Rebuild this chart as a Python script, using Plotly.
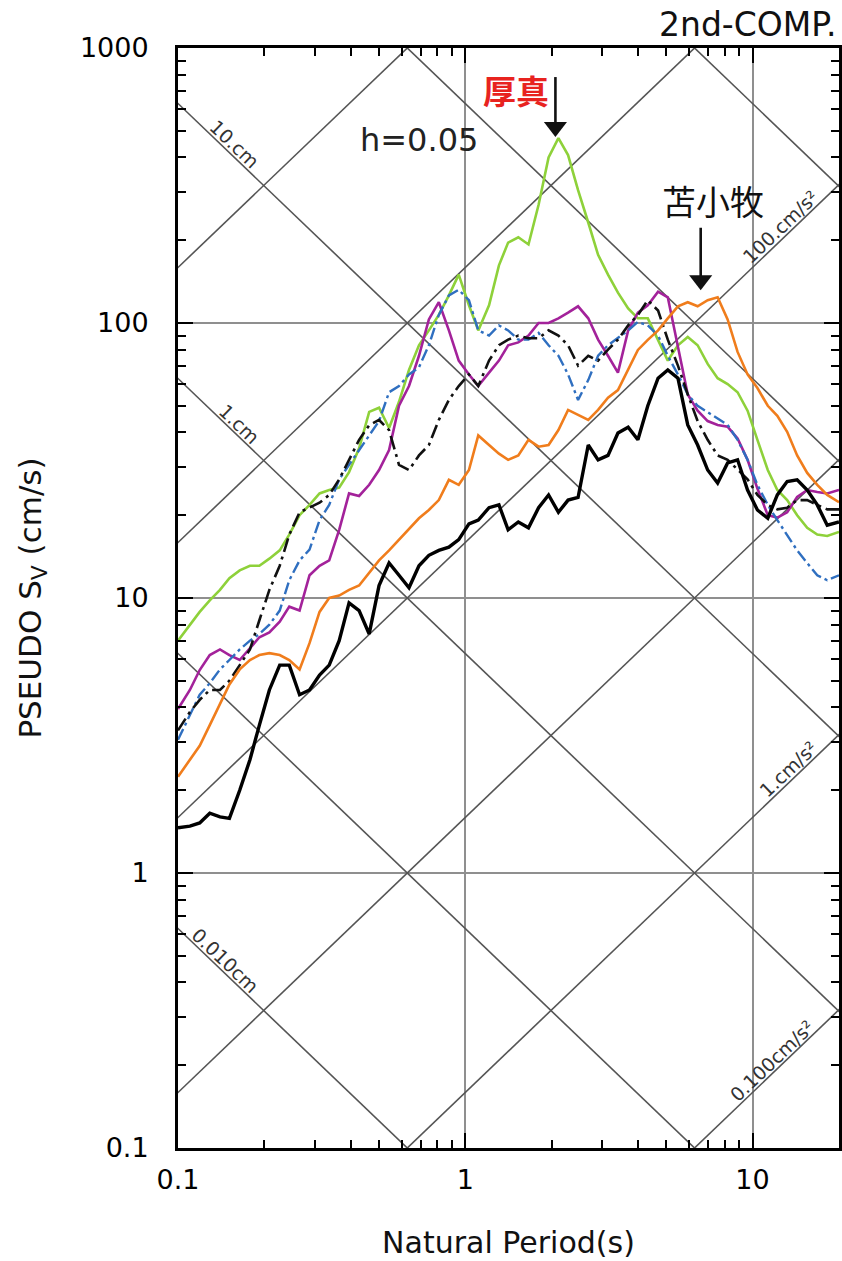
import math
import plotly.graph_objects as go

# ---------------- data ----------------
period = [0.1, 0.11, 0.119, 0.129, 0.14, 0.151, 0.164, 0.178, 0.192, 0.208,
          0.226, 0.244, 0.265, 0.287, 0.311, 0.336, 0.364, 0.394, 0.427, 0.463,
          0.501, 0.543, 0.588, 0.637, 0.69, 0.747, 0.809, 0.877, 0.949, 1.03,
          1.11, 1.21, 1.31, 1.41, 1.53, 1.66, 1.8, 1.95, 2.11, 2.28,
          2.47, 2.68, 2.9, 3.14, 3.4, 3.69, 3.99, 4.32, 4.69, 5.07,
          5.5, 5.95, 6.44, 6.98, 7.56, 8.19, 8.87, 9.61, 10.4, 11.3,
          12.2, 13.2, 14.3, 15.5, 16.8, 18.2, 20.0]

sv_green = [7.0, 8.0, 8.9, 9.8, 10.7, 11.8, 12.6, 13.1, 13.1, 13.9,
            14.9, 17.0, 20.0, 21.8, 24.0, 24.7, 25.2, 28.7, 35.0, 47.5,
            49.2, 41.5, 51.7, 67.5, 83, 94, 107, 126, 150, 116,
            94, 116, 162, 196, 205, 193, 269, 400, 470, 408,
            304, 232, 177, 150, 129, 113, 104, 104, 87, 73,
            83, 89, 83, 71, 63, 60, 56, 48, 37.6, 29.2,
            24.7, 22.7, 20.0, 18.0, 17.0, 16.8, 17.4]

sv_magenta = [3.95, 4.63, 5.47, 6.2, 6.5, 6.2, 5.95, 6.6, 7.2, 7.5,
              8.2, 9.3, 9.0, 12.1, 13.1, 13.7, 17.7, 24, 23.5, 25.8,
              29.2, 34.5, 50, 59, 76, 103, 119, 94, 73, 65,
              59, 66, 73, 83, 85, 90, 100, 100, 104, 109,
              115, 104, 87, 76, 66, 94, 109, 116, 130, 124,
              83, 55, 48, 44, 42.6, 42, 38, 31.8, 25, 20,
              19.6, 20.5, 23.3, 24.7, 24.3, 24, 24.7]

sv_blue = [3.05, 3.75, 4.45, 4.9, 5.5, 5.95, 6.5, 7.0, 7.4, 8.0,
           9.0, 11.6, 13.7, 15.0, 19.2, 21.8, 27, 30.5, 34.5, 39,
           44, 56, 59, 65, 69, 83, 107, 126, 132, 121,
           94, 90, 98, 94, 87, 87, 92, 83, 76, 65,
           52.5, 62, 76, 83, 88, 94, 101, 98, 90, 76,
           65, 55, 50, 47.5, 45, 42.6, 37.6, 31.8, 25.8, 21.8,
           19.2, 17, 14.9, 13.4, 12.1, 11.6, 12.1]

sv_black_dashdot = [3.3, 3.85, 4.26, 4.63, 4.63, 5.0, 5.7, 6.5, 8.3, 10.7,
                    13.1, 17, 20.5, 21.3, 22.2, 23.7, 27, 31.8, 37.6, 42.5,
                    44.4, 40.8, 30.5, 29.2, 33, 36, 44.4, 52.5, 59, 65,
                    59, 73, 83, 87, 90, 88, 88, 94, 90, 83,
                    70, 76, 73, 80, 87, 98, 107, 121, 111, 87,
                    70, 55, 44, 37.6, 33, 31.8, 29.2, 27, 23.7, 21.8,
                    21, 21.3, 22.7, 22.7, 21.8, 21, 21]

sv_orange = [2.24, 2.58, 2.9, 3.45, 4.1, 4.85, 5.5, 5.95, 6.2, 6.3,
             6.2, 5.95, 5.5, 6.85, 8.9, 10, 10.2, 10.7, 11.1, 12.3,
             13.7, 14.9, 16.3, 17.7, 19.5, 20.9, 22.7, 26.9, 25.8, 29.2,
             39, 36, 33.5, 31.8, 33, 37.6, 35.5, 36, 40.8, 48.3,
             46.3, 44.4, 48.3, 53.5, 57, 67.5, 79.8, 86.8, 94, 104,
             115, 119, 115, 121, 124, 103, 78.5, 65, 58, 50,
             46, 40.2, 33, 28.5, 25.8, 23.7, 22.3]

sv_black = [1.46, 1.48, 1.52, 1.65, 1.6, 1.58, 2.0, 2.58, 3.45, 4.63,
            5.7, 5.7, 4.45, 4.63, 5.25, 5.7, 7.0, 9.6, 9.0, 7.4,
            11.1, 13.4, 12.1, 10.9, 13.1, 14.3, 14.9, 15.3, 16.3, 18.6,
            19.2, 21.3, 21.8, 17.7, 18.9, 18, 21.3, 23.7, 20.5, 22.7,
            23.2, 36, 31.8, 33, 39.8, 41.8, 37.6, 50, 63, 67.5,
            63, 42.6, 36, 29.2, 26.2, 31, 31.8, 24.7, 20.9, 19.5,
            23.7, 26.5, 26.9, 24.7, 21.8, 18.4, 18.9]

# tripartite reference lines
disp_cm = [0.01, 0.1, 1, 10, 100, 1000]          # constant displacement (cm)
acc_cm = [0.1, 1, 10, 100, 1000, 10000]          # constant acceleration (cm/s2)

x_ticks = [0.1, 1, 10]
x_ticktext = ["0.1", "1", "10"]
y_ticks = [0.1, 1, 10, 100, 1000]
y_ticktext = ["0.1", "1", "10", "100", "1000"]

# arrow markers: (period, tail Sv, head Sv)
arrow_atsuma = (2.06, 784, 516)
arrow_tomakomai = (6.60, 222, 143)

# ---------------- layout geometry ----------------
W, H = 842, 1261
ML, MR, MT, MB = 178, 0, 48, 113
x_range = [-1, math.log10(20)]
y_range = [-1, 3]
pw, ph = W - ML - MR, H - MT - MB
px_dec_x = pw / (x_range[1] - x_range[0])
px_dec_y = ph / (y_range[1] - y_range[0])
theta = math.atan(px_dec_y / px_dec_x)
ang = math.degrees(theta)

FONT = "DejaVu Sans"
CJK = "Noto Sans CJK JP"
diag_color = "#555555"

fig = go.Figure()

t_ends = [0.05, 40]
for sd in disp_cm:
    fig.add_trace(go.Scatter(x=t_ends, y=[2 * math.pi * sd / t for t in t_ends],
                             mode="lines", line=dict(color=diag_color, width=1.6),
                             hoverinfo="skip", showlegend=False))
for sa in acc_cm:
    fig.add_trace(go.Scatter(x=t_ends, y=[sa * t / (2 * math.pi) for t in t_ends],
                             mode="lines", line=dict(color=diag_color, width=1.6),
                             hoverinfo="skip", showlegend=False))

series = [
    (sv_green, dict(color="#8ed13a", width=2.6)),
    (sv_magenta, dict(color="#a3229a", width=2.6)),
    (sv_blue, dict(color="#2f6fc0", width=2.4, dash="12px,4px,3px,4px")),
    (sv_black_dashdot, dict(color="#111111", width=2.6, dash="14px,5px,3px,5px")),
    (sv_orange, dict(color="#f07d1c", width=2.6)),
    (sv_black, dict(color="#000000", width=3.4)),
]
for sv, ln in series:
    fig.add_trace(go.Scatter(x=period, y=sv, mode="lines", line=ln,
                             showlegend=False, hoverinfo="skip"))

# arrows (shaft + triangular head)
for t, tail, head in (arrow_atsuma, arrow_tomakomai):
    fig.add_trace(go.Scatter(x=[t, t], y=[tail, head], mode="lines",
                             line=dict(color="#111111", width=2.6),
                             hoverinfo="skip", showlegend=False))
    fig.add_trace(go.Scatter(x=[t], y=[head], mode="markers",
                             marker=dict(symbol="triangle-down", size=20, color="#111111",
                                         line=dict(width=0)),
                             hoverinfo="skip", showlegend=False))

minor_vals = [m * 10 ** e for e in range(-1, 2) for m in range(2, 10)] + [20]
minor_y = [m * 10 ** e for e in range(-1, 3) for m in range(2, 10)]

axis_common = dict(
    type="log", showline=True, linecolor="black", linewidth=3, mirror="ticks",
    ticks="inside", ticklen=15, tickwidth=2, tickcolor="black",
    showgrid=True, gridcolor="#8f8f8f", gridwidth=2, zeroline=False,
    tickfont=dict(family=FONT, size=27, color="black"),
)
fig.update_xaxes(range=x_range, tickvals=x_ticks, ticktext=x_ticktext,
                 ticklabelstandoff=6,
                 title=dict(text="Natural Period(s)", standoff=38,
                            font=dict(family=FONT, size=30, color="#111111")),
                 minor=dict(tickvals=minor_vals, ticks="inside", ticklen=8,
                            tickwidth=2, tickcolor="black", showgrid=False),
                 **axis_common)
fig.update_yaxes(range=y_range, tickvals=y_ticks, ticktext=y_ticktext,
                 ticklabelstandoff=21,
                 title=dict(text="PSEUDO S<sub>V</sub> (cm/s)", standoff=30,
                            font=dict(family=FONT, size=31, color="#111111")),
                 minor=dict(tickvals=minor_y, ticks="inside", ticklen=8,
                            tickwidth=2, tickcolor="black", showgrid=False),
                 **axis_common)

ann = []
lab_font = dict(family=FONT, size=19, color="#333333")


def desc_label(sd, t, text, d=10):
    sv = 2 * math.pi * sd / t
    ann.append(dict(x=math.log10(t), y=math.log10(sv), text=text, showarrow=False,
                    textangle=ang, font=lab_font,
                    xshift=d * math.sin(theta), yshift=d * math.cos(theta)))


def asc_label(sa, t, text, d=10):
    sv = sa * t / (2 * math.pi)
    ann.append(dict(x=math.log10(t), y=math.log10(sv), text=text, showarrow=False,
                    textangle=-ang, font=lab_font,
                    xshift=-d * math.sin(theta), yshift=d * math.cos(theta)))


desc_label(10, 0.149, "10.cm")
desc_label(1, 0.155, "1.cm")
desc_label(0.01, 0.138, "0.010cm")
asc_label(100, 13.2, "100.cm/s²")
asc_label(1, 14.1, "1.cm/s²")
asc_label(0.1, 12.3, "0.100cm/s²")

# text annotations
ann.append(dict(x=math.log10(0.69), y=math.log10(463), text="h=0.05", showarrow=False,
                font=dict(family=FONT, size=32, color="#222222")))
ann.append(dict(x=math.log10(1.496), y=math.log10(703), text="<b>厚真</b>", showarrow=False,
                font=dict(family=CJK, size=33, color="#e8231f")))
ann.append(dict(x=math.log10(7.27), y=math.log10(278), text="苫小牧", showarrow=False,
                font=dict(family=CJK, size=34, color="#111111")))
ann.append(dict(xref="paper", yref="paper", x=1.0, y=(ph + 24) / ph, xanchor="right",
                yanchor="middle", text="2nd-COMP.", showarrow=False,
                font=dict(family=FONT, size=33, color="#111111")))

fig.update_layout(width=W, height=H, margin=dict(l=ML, r=MR, t=MT, b=MB, pad=0),
                  plot_bgcolor="white", paper_bgcolor="white",
                  annotations=ann, showlegend=False)

fig.write_html("out.html", config={"displayModeBar": False},
               post_script="document.body.style.margin='0px';"
                           "document.body.style.overflow='hidden';")
